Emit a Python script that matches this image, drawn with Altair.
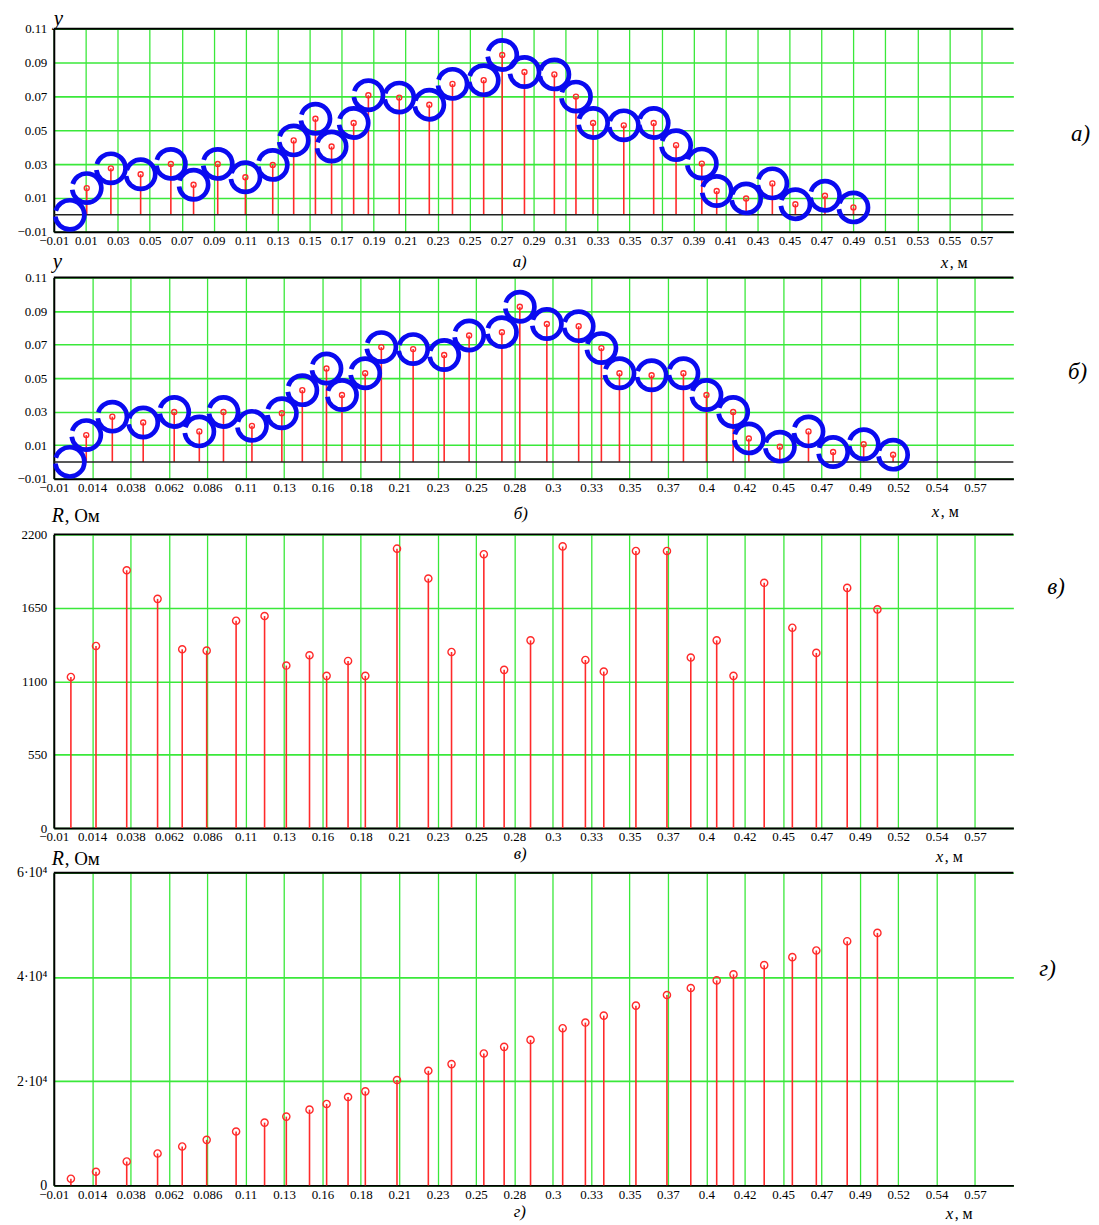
import altair as alt
import pandas as pd

# ---------------- data ----------------
# panel a)  (x, m ; y)
xa = [0.0106, 0.0257, 0.0443, 0.0632, 0.0774, 0.0925, 0.1098, 0.1269, 0.140, 0.1536,
      0.1637, 0.1775, 0.1867, 0.206, 0.2248, 0.2393, 0.2588, 0.2704, 0.2843, 0.303,
      0.3165, 0.3272, 0.3464, 0.3651, 0.3791, 0.3952, 0.4045, 0.4229, 0.4393, 0.4537,
      0.4722, 0.49]
ya = [0.0158, 0.0275, 0.024, 0.0301, 0.0178, 0.0301, 0.0222, 0.0295, 0.044, 0.0568,
      0.0404, 0.0543, 0.0707, 0.0693, 0.0651, 0.0774, 0.0796, 0.0945, 0.0844, 0.083,
      0.0699, 0.0543, 0.0529, 0.0543, 0.0412, 0.0303, 0.0141, 0.0097, 0.0186, 0.0063,
      0.0113, 0.0044]
# panel б)
xb = [0.0103, 0.0266, 0.0459, 0.0653, 0.0810, 0.0961, 0.1139, 0.1326, 0.1454, 0.1605,
      0.1702, 0.1847, 0.1948, 0.2147, 0.2341, 0.2497, 0.2702, 0.2814, 0.2983, 0.3182,
      0.3324, 0.3437, 0.3638, 0.3837, 0.3981, 0.4148, 0.4246, 0.444, 0.4619, 0.4773,
      0.4964, 0.5148]
yb = [0.016, 0.027, 0.0235, 0.0298, 0.0182, 0.0298, 0.0215, 0.029, 0.0428, 0.0557,
      0.0399, 0.0529, 0.0685, 0.0673, 0.0638, 0.0754, 0.0774, 0.0926, 0.0823, 0.081,
      0.0679, 0.0529, 0.0517, 0.0529, 0.0399, 0.0298, 0.014, 0.0091, 0.0182, 0.0059,
      0.0105, 0.0043]
# extra circle (electrode at the origin) drawn in a) and б)
x_origin = [0.0]
y_origin = [0.0]
# panels в) and г)  (x, m ; R, Ohm)
xr = [0.0007, 0.0164, 0.0356, 0.0549, 0.0703, 0.0856, 0.104, 0.1218, 0.1354, 0.1499,
      0.1606, 0.174, 0.1848, 0.2046, 0.2242, 0.2387, 0.2589, 0.2716, 0.2881, 0.3082,
      0.3224, 0.3339, 0.354, 0.3734, 0.3883, 0.4045, 0.415, 0.4342, 0.4518, 0.4668,
      0.4861, 0.5050]
Rc = [1132, 1364, 1931, 1717, 1339, 1329, 1553, 1588, 1217, 1294, 1140, 1252, 1140,
      2093, 1869, 1319, 2051, 1185, 1406, 2110, 1259, 1172, 2076, 2076, 1277, 1406,
      1140, 1837, 1501, 1312, 1799, 1638]
Rd = [1280, 2610, 4590, 6120, 7460, 8740, 10330, 12050, 13200, 14540, 15630, 16960,
      18050, 20220, 22000, 23280, 25320, 26590, 27930, 30170, 31250, 32590, 34500,
      36540, 37880, 39350, 40500, 42280, 43810, 45090, 46880, 48470]

# tick labels
xlab_a = ["−0.01", "0.01", "0.03", "0.05", "0.07", "0.09", "0.11", "0.13", "0.15", "0.17",
          "0.19", "0.21", "0.23", "0.25", "0.27", "0.29", "0.31", "0.33", "0.35", "0.37",
          "0.39", "0.41", "0.43", "0.45", "0.47", "0.49", "0.51", "0.53", "0.55", "0.57"]
xlab_b = ["−0.01", "0.014", "0.038", "0.062", "0.086", "0.11", "0.13", "0.16", "0.18",
          "0.21", "0.23", "0.25", "0.28", "0.3", "0.33", "0.35", "0.37", "0.4", "0.42",
          "0.45", "0.47", "0.49", "0.52", "0.54", "0.57"]
ylab_ab = ["−0.01", "0.01", "0.03", "0.05", "0.07", "0.09", "0.11"]
ylab_c = ["0", "550", "1100", "1650", "2200"]
ylab_d = ["0", "2·10⁴", "4·10⁴", "6·10⁴"]

X_MIN, X_MAX = -0.01, 0.59
W = 964
FONT = "Liberation Serif"
GREEN = "#3ae83a"
RED = "#ff2a2a"
BLUE = "#0a0af0"


def lookup_expr(labels, start, step):
    arr = "[" + ",".join("'" + s + "'" for s in labels) + "]"
    return f"{arr}[round((datum.value - ({start})) / {step})]"


def x_axis(labels, step):
    vals = [X_MIN + i * step for i in range(len(labels))]
    return alt.Axis(values=vals, tickCount=80, labelExpr=lookup_expr(labels, X_MIN, step),
                    grid=True, gridColor=GREEN, gridWidth=1.3, ticks=False,
                    domainColor="black", domainWidth=2, labelFont=FONT,
                    labelFontSize=13, labelColor="black", labelPadding=3,
                    labelFlush=False, labelOverlap=False, labelBound=False, title=None)


def y_axis(labels, start, step, fs):
    vals = [start + i * step for i in range(len(labels))]
    return alt.Axis(values=vals, tickCount=40, labelExpr=lookup_expr(labels, start, step),
                    grid=True, gridColor=GREEN, gridWidth=1.6, ticks=False,
                    domainColor="black", domainWidth=2, labelFont=FONT,
                    labelFontSize=fs, labelColor="black", labelPadding=7,
                    labelOverlap=False, labelFlush=False, title=None)


one = pd.DataFrame({"k": [0]})


def text(t, x, y, size, italic=True):
    return alt.Chart(one).mark_text(
        text=t, font=FONT, fontSize=size, fontStyle="italic" if italic else "normal",
        align="left", baseline="alphabetic", color="black"
    ).encode(x=alt.value(x), y=alt.value(y))


def panel(df, xs, ys, ydom, ylabels, ystart, ystep, labels, step, H, circles=None,
          pt_size=25, ann=None, zero_line=False, yfs=13):
    xsc = alt.Scale(domain=[X_MIN, X_MAX], nice=False, zero=False)
    ysc = alt.Scale(domain=ydom, nice=False, zero=False)

    def X(f):
        return alt.X(f, type="quantitative", scale=xsc, axis=x_axis(labels, step))

    def Y(f):
        return alt.Y(f, type="quantitative", scale=ysc,
                     axis=y_axis(ylabels, ystart, ystep, yfs))

    base = alt.Chart(df)
    layers = [base.mark_rule(color=RED, strokeWidth=1.6).encode(
        x=X(xs), y=Y(ys), y2=alt.datum(0))]
    layers.append(alt.Chart(one).mark_rule(color="black", strokeWidth=2).encode(
        x=alt.value(0), x2=alt.value(W), y=alt.value(0)))
    if zero_line:
        layers.append(alt.Chart(one).mark_rule(color="#222", strokeWidth=1.5).encode(
            y=alt.datum(0), x=alt.value(0), x2=alt.value(W)))
    if circles is not None:
        layers.append(alt.Chart(circles).mark_point(
            shape="circle", filled=False, size=860, strokeWidth=4.7, color=BLUE,
            opacity=1, strokeDash=[44, 6]).encode(x=X("cx"), y=Y("cy")))
    layers.append(base.mark_point(shape="circle", filled=False, size=pt_size,
                                  strokeWidth=1.4, color=RED, opacity=1).encode(
        x=X(xs), y=Y(ys)))
    for a in (ann or []):
        layers.append(text(*a))
    return alt.layer(*layers).properties(width=W, height=H)


def spacer(h):
    return alt.Chart(one).mark_point(opacity=0).encode(
        x=alt.value(0), y=alt.value(0)).properties(width=W, height=h)


dfa = pd.DataFrame({"x": xa, "y": ya})
dfb = pd.DataFrame({"x": xb, "y": yb})
dfc = pd.DataFrame({"x": xr, "R": Rc})
dfd = pd.DataFrame({"x": xr, "R": Rd})
circ_a = pd.DataFrame({"cx": x_origin + xa, "cy": y_origin + ya})
circ_b = pd.DataFrame({"cx": x_origin + xb, "cy": y_origin + yb})

ann_a = [("y", 0, -4, 21), ("x", 891, 240, 17), (", м", 900, 240, 16, False),
         ("a)", 461, 239, 17), ("a)", 1022, 113, 23)]
ann_b = [("y", -1, -10, 21), ("x", 882, 241, 17), (", м", 891, 241, 16, False),
         ("б)", 462, 243, 17), ("б)", 1019, 102, 23)]
ann_c = [("R", -2, -12, 20), (", Ом", 11, -12, 19, False), ("x", 886, 329, 17),
         (", м", 895, 329, 16, False), ("в)", 462, 326, 17), ("в)", 998, 60, 23)]
ann_d = [("R", -2, -8, 20), (", Ом", 11, -8, 19, False), ("x", 896, 348, 17),
         (", м", 905, 348, 16, False), ("г)", 462, 346, 17), ("г)", 990, 104, 23)]

pa = panel(dfa, "x", "y", [-0.01, 0.11], ylab_ab, -0.01, 0.02, xlab_a, 0.02, 204,
           circles=circ_a, pt_size=25, ann=ann_a, zero_line=True)
pb = panel(dfb, "x", "y", [-0.01, 0.11], ylab_ab, -0.01, 0.02, xlab_b, 0.024, 202,
           circles=circ_b, pt_size=25, ann=ann_b, zero_line=True)
pc = panel(dfc, "x", "R", [0, 2200], ylab_c, 0, 550, xlab_b, 0.024, 295,
           pt_size=52, ann=ann_c)
pd_ = panel(dfd, "x", "R", [0, 60000], ylab_d, 0, 20000, xlab_b, 0.024, 314,
            pt_size=52, ann=ann_d, yfs=14)

chart = alt.vconcat(pa, spacer(46), pb, spacer(56), pc, spacer(45), pd_,
                    spacing=0, bounds="flush").properties(
    padding={"left": 8, "top": -3, "right": 0, "bottom": 0},
    background="white",
).configure_view(stroke=None)

chart.save("out.html", embed_options={"renderer": "svg", "actions": False})
